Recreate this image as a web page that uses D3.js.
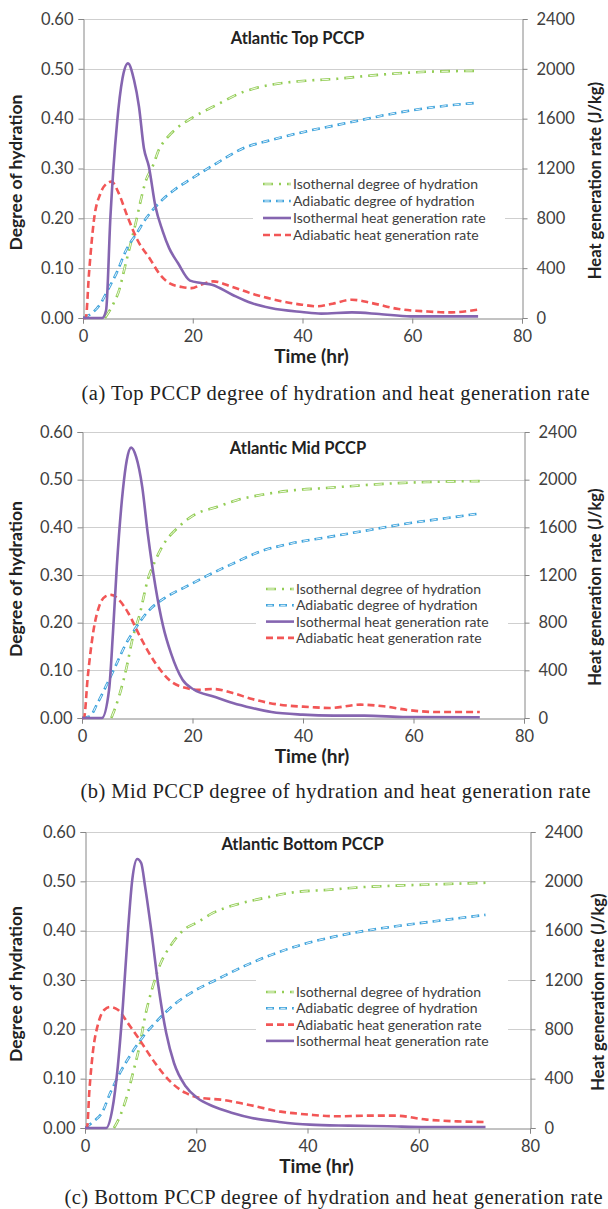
<!DOCTYPE html>
<html>
<head>
<meta charset="utf-8">
<script src="https://cdn.jsdelivr.net/npm/d3@7"></script>
<style>
  body { margin: 0; background: #fff; }
  svg { display: block; }
</style>
</head>
<body>
<div id="chart"></div>
<script>
/* data: [time (hr), value] */
const timeTicks = [0, 20, 40, 60, 80];
const hydTicks = [0, 0.1, 0.2, 0.3, 0.4, 0.5, 0.6];
const heatTicks = [0, 400, 800, 1200, 1600, 2000, 2400];

// (a) top
const topIsoHyd = [[4,0],[5.6,0.03],[6.5,0.053],[7.8,0.11],[8.7,0.15],[9.6,0.19],[10.5,0.235],[11.3,0.27],[12.9,0.31],[13.8,0.337],[15.2,0.36],[17,0.38],[19.8,0.401],[24.4,0.428],[29.3,0.454],[34.2,0.468],[40.6,0.476],[46.3,0.48],[51.9,0.486],[57.5,0.491],[62.5,0.494],[72,0.496]];
const topAdiHyd = [[0,0],[1.3,0.007],[3.2,0.029],[4.6,0.058],[6.1,0.09],[7.9,0.137],[9.9,0.172],[11.5,0.2],[13.8,0.23],[16.6,0.257],[19.4,0.277],[24.4,0.311],[29.3,0.341],[34.2,0.357],[41.3,0.376],[48.4,0.392],[55.4,0.408],[62.5,0.421],[72,0.432]];
const topIsoHeat = [[0,0],[3.5,0],[4.2,60],[5.0,815],[6.2,1563],[7.2,1924],[8.2,2044],[9.3,1910],[10.2,1697],[11.1,1363],[12,1216],[13.2,895],[14.5,700],[15.7,561],[17.3,441],[19.5,300],[21.5,281],[23.5,267],[27.2,187],[30.7,120],[34.2,80],[39.9,48],[43.4,35],[49,45],[54,32],[59.7,13],[72,13]];
const topAdiHeat = [[0,0],[0.5,0],[1.1,361],[2.0,788],[3.2,1002],[4.4,1082],[5.2,1095],[6.5,1002],[8.1,815],[9.9,628],[12.3,468],[14,350],[15.9,275],[18,249],[19.8,240],[21.5,267],[23.7,294],[27.2,249],[31.4,187],[35.7,139],[39.9,107],[42.7,94],[45.5,115],[49,147],[52.6,120],[57.5,72],[62.5,53],[66.7,45],[72,67]];

// (b) mid
const midIsoHyd = [[5.3,0],[6.7,0.045],[8.1,0.108],[9.1,0.164],[10.5,0.22],[11.9,0.29],[13.3,0.331],[14.7,0.363],[17.5,0.401],[20.3,0.426],[24.5,0.443],[28,0.457],[32.9,0.469],[38.5,0.478],[44.8,0.483],[50.4,0.488],[56,0.492],[62.3,0.495],[72,0.497]];
const midAdiHyd = [[0,0],[1.4,0.003],[2.8,0.031],[4.6,0.073],[6.3,0.115],[7.7,0.15],[9.5,0.185],[11.9,0.223],[15.4,0.255],[18.9,0.276],[22.4,0.297],[27.3,0.324],[32.2,0.349],[37.8,0.366],[44.8,0.38],[51.8,0.394],[58.8,0.408],[65.8,0.419],[72,0.429]];
const midIsoHeat = [[0,0],[3.6,0],[4.9,237],[5.6,712],[6.3,1270],[7.4,1912],[8.1,2163],[8.9,2269],[9.8,2191],[10.9,1940],[11.9,1549],[13.3,1102],[14.7,767],[16.1,544],[18.2,321],[20.3,237],[23.8,181],[27.3,126],[30.8,84],[34.3,50],[39.9,28],[45.5,20],[51.1,20],[58.8,8],[72,6]];
const midAdiHeat = [[0,0],[0.35,0],[1.05,349],[2.1,740],[3.2,949],[4.2,1019],[5.3,1033],[6.7,991],[8.4,879],[10.5,684],[13.3,460],[16.1,307],[18.9,251],[21,237],[23.8,243],[27.3,209],[30.8,159],[35.7,112],[41.3,92],[44.8,84],[50.4,112],[54.6,98],[59.5,64],[64.4,50],[72,50]];

// (c) bottom
const botIsoHyd = [[5.2,0],[6.3,0.024],[7.7,0.071],[8.7,0.115],[9.8,0.166],[10.8,0.226],[12.2,0.287],[13.6,0.334],[15.3,0.368],[17.8,0.402],[20.2,0.417],[23,0.436],[27.2,0.453],[32.1,0.466],[37.7,0.478],[43.9,0.483],[49.5,0.488],[55.1,0.491],[60.7,0.493],[66.2,0.495],[72,0.497]];
const botAdiHyd = [[0,0],[1.4,0.012],[3.1,0.032],[4.5,0.07],[6.3,0.112],[8.4,0.152],[10.5,0.186],[13.2,0.22],[16,0.25],[19.5,0.277],[23.7,0.301],[28.6,0.328],[33.5,0.351],[39.1,0.372],[45.3,0.389],[51.6,0.402],[57.9,0.412],[64.9,0.422],[72,0.432]];
const botIsoHeat = [[0,0],[3.8,0],[4.9,149],[5.9,500],[6.8,986],[7.7,1581],[8.5,2014],[9.4,2181],[10.1,2149],[10.8,1959],[11.9,1608],[13.2,1149],[14.6,770],[16,527],[18.1,338],[20.2,243],[23,176],[26.5,122],[30,81],[34.9,49],[40.4,27],[47.4,19],[54.4,14],[61.4,8],[72,8]];
const botAdiHeat = [[0,0],[0.35,0],[0.8,311],[1.4,608],[2.4,851],[3.5,959],[4.5,981],[5.9,959],[7.7,851],[9.8,716],[12.6,527],[15.3,378],[18.1,284],[20.9,243],[24.4,230],[29.3,189],[34.9,135],[40.4,108],[45.3,95],[50.9,100],[55.8,100],[61.4,68],[66.9,54],[72,49]];

const seriesNames = {
  isoHyd: "Isothernal degree of hydration",
  adiHyd: "Adiabatic degree of hydration",
  isoHeat: "Isothermal heat generation rate",
  adiHeat: "Adiabatic heat generation rate"
};

/* styles */
const styles = {
  isoHyd: { color: "#93cd55", width: 2.6, dash: "10,6,2,6", inner: "0,1.5,7,15.5", axis: "hyd" },
  adiHyd: { color: "#3ea3dc", width: 2.6, dash: "8,5", inner: "0,1.5,5,6.5", axis: "hyd" },
  isoHeat: { color: "#8565b0", width: 2.6, dash: null, axis: "heat" },
  adiHeat: { color: "#f25656", width: 2.6, dash: "7,4", axis: "heat" }
};

const panels = [
  { title: "Atlantic Top PCCP", caption: "(a)  Top PCCP degree of hydration and heat generation rate",
    l: 83, r: 522, t: 19, b: 318, titleY: 44, legY: 184, legStep: 17, legX: 263,
    capY: 400, capX: 335.5, capW: 508, rtX: 601,
    series: { isoHyd: topIsoHyd, adiHyd: topAdiHyd, isoHeat: topIsoHeat, adiHeat: topAdiHeat },
    order: ["isoHyd", "adiHyd", "isoHeat", "adiHeat"] },
  { title: "Atlantic Mid PCCP", caption: "(b)  Mid PCCP degree of hydration and heat generation rate",
    l: 82, r: 524, t: 432, b: 718, titleY: 454, legY: 589, legStep: 16.3, legX: 266,
    capY: 798, capX: 335.5, capW: 510, rtX: 601,
    series: { isoHyd: midIsoHyd, adiHyd: midAdiHyd, isoHeat: midIsoHeat, adiHeat: midAdiHeat },
    order: ["isoHyd", "adiHyd", "isoHeat", "adiHeat"] },
  { title: "Atlantic Bottom PCCP", caption: "(c)  Bottom PCCP degree of hydration and heat generation rate",
    l: 85, r: 530, t: 832, b: 1128, titleY: 850, legY: 992, legStep: 16.3, legX: 266,
    capY: 1204, capX: 333.5, capW: 538, rtX: 604,
    series: { isoHyd: botIsoHyd, adiHyd: botAdiHyd, isoHeat: botIsoHeat, adiHeat: botAdiHeat },
    order: ["isoHyd", "adiHyd", "adiHeat", "isoHeat"] }
];

const W = 608, H = 1209;
const sans = "Lato, 'Open Sans', sans-serif";
const textCol = "#404040";
const axisCol = "#868686";
const gridCol = "#cfcfcf";

let svg = d3.select("#chart").append("svg")
  .attr("width", W)
  .attr("height", H);

svg.append("rect").attr("width", W).attr("height", H).attr("fill", "#fff");

panels.forEach(p => {
  let g = svg.append("g");
  let x = d3.scaleLinear().domain([0, 80]).range([p.l, p.r]);
  let yHyd = d3.scaleLinear().domain([0, 0.6]).range([p.b, p.t]);
  let yHeat = d3.scaleLinear().domain([0, 2400]).range([p.b, p.t]);

  // gridlines
  g.append("g").selectAll("line").data(hydTicks.slice(1)).enter().append("line")
    .attr("x1", p.l).attr("x2", p.r)
    .attr("y1", d => Math.round(yHyd(d)) + 0.5).attr("y2", d => Math.round(yHyd(d)) + 0.5)
    .attr("stroke", gridCol).attr("stroke-width", 1);

  // left axis
  let left = g.append("g").attr("transform", `translate(${p.l + 0.5},0)`)
    .call(d3.axisLeft(yHyd).tickValues(hydTicks).tickFormat(d3.format(".2f")).tickSize(5).tickPadding(5));
  // right axis
  let right = g.append("g").attr("transform", `translate(${p.r + 0.5},0)`)
    .call(d3.axisRight(yHeat).tickValues(heatTicks).tickFormat(d3.format("d")).tickSize(5).tickPadding(9));
  // bottom axis
  let bottom = g.append("g").attr("transform", `translate(0,${p.b + 0.5})`)
    .call(d3.axisBottom(x).tickValues(timeTicks).tickSize(5).tickPadding(7));

  [left, right, bottom].forEach(a => {
    a.select(".domain").attr("stroke", axisCol);
    a.selectAll(".tick line").attr("stroke", axisCol);
    a.selectAll("text").attr("fill", textCol).style("font-family", sans).style("font-size", "16.5px");
  });

  // lines
  let clip = "clip" + p.t;
  g.append("clipPath").attr("id", clip).append("rect")
    .attr("x", p.l).attr("y", p.t - 10).attr("width", p.r - p.l).attr("height", p.b - p.t + 12);
  let lines = g.append("g").attr("clip-path", `url(#${clip})`);

  ["isoHyd", "adiHyd", "adiHeat", "isoHeat"].forEach(k => {
    let s = styles[k];
    let y = s.axis === "hyd" ? yHyd : yHeat;
    let line = d3.line().x(d => x(d[0])).y(d => y(d[1])).curve(d3.curveMonotoneX);
    lines.append("path")
      .attr("d", line(p.series[k]))
      .attr("fill", "none")
      .attr("stroke", s.color)
      .attr("stroke-width", s.width)
      .attr("stroke-dasharray", s.dash)
      .attr("stroke-linejoin", "round");
    if (s.inner) {
      lines.append("path")
        .attr("d", line(p.series[k]))
        .attr("fill", "none")
        .attr("stroke", "#fff")
        .attr("stroke-width", 0.9)
        .attr("stroke-dasharray", s.inner);
    }
  });

  // chart title
  g.append("text")
    .attr("x", (p.l + p.r) / 2 - 5).attr("y", p.titleY)
    .attr("text-anchor", "middle")
    .style("font-family", sans).style("font-weight", "bold").style("font-size", "16.5px")
    .attr("fill", "#222").text(p.title);

  // legend
  let leg = g.append("g");
  leg.append("rect")
    .attr("x", p.legX - 10).attr("y", p.legY - 12)
    .attr("width", 252).attr("height", p.legStep * 4 + 8)
    .attr("fill", "#fff");
  p.order.forEach((k, i) => {
    let s = styles[k];
    let yy = p.legY + i * p.legStep;
    leg.append("line")
      .attr("x1", p.legX).attr("x2", p.legX + 28)
      .attr("y1", yy).attr("y2", yy)
      .attr("stroke", s.color).attr("stroke-width", s.width)
      .attr("stroke-dasharray", s.dash);
    if (s.inner) {
      leg.append("line")
        .attr("x1", p.legX).attr("x2", p.legX + 28)
        .attr("y1", yy).attr("y2", yy)
        .attr("stroke", "#fff").attr("stroke-width", 0.9)
        .attr("stroke-dasharray", s.inner);
    }
    leg.append("text")
      .attr("x", p.legX + 30).attr("y", yy + 5)
      .style("font-family", sans).style("font-size", "14px")
      .attr("fill", textCol).text(seriesNames[k]);
  });

  // axis titles
  g.append("text")
    .attr("transform", `translate(22,${(p.t + p.b) / 2 + 4}) rotate(-90)`)
    .attr("text-anchor", "middle")
    .style("font-family", sans).style("font-weight", "bold").style("font-size", "17.5px")
    .attr("fill", "#222").text("Degree of hydration");
  g.append("text")
    .attr("transform", `translate(${p.rtX},${(p.t + p.b) / 2 + 12}) rotate(-90)`)
    .attr("text-anchor", "middle")
    .style("font-family", sans).style("font-weight", "bold").style("font-size", "16.5px")
    .attr("fill", "#222").text("Heat generation rate (J/kg)");
  g.append("text")
    .attr("x", (p.l + p.r) / 2 + 9).attr("y", p.b + 45)
    .attr("text-anchor", "middle")
    .style("font-family", sans).style("font-weight", "bold").style("font-size", "19px")
    .attr("fill", "#222").text("Time (hr)");

  // caption
  g.append("text")
    .attr("x", p.capX).attr("y", p.capY)
    .attr("text-anchor", "middle")
    .attr("textLength", p.capW).attr("lengthAdjust", "spacing")
    .style("font-family", "'Liberation Serif', 'Times New Roman', serif").style("font-size", "20.5px")
    .attr("fill", "#222").text(p.caption);
});
</script>
</body>
</html>
